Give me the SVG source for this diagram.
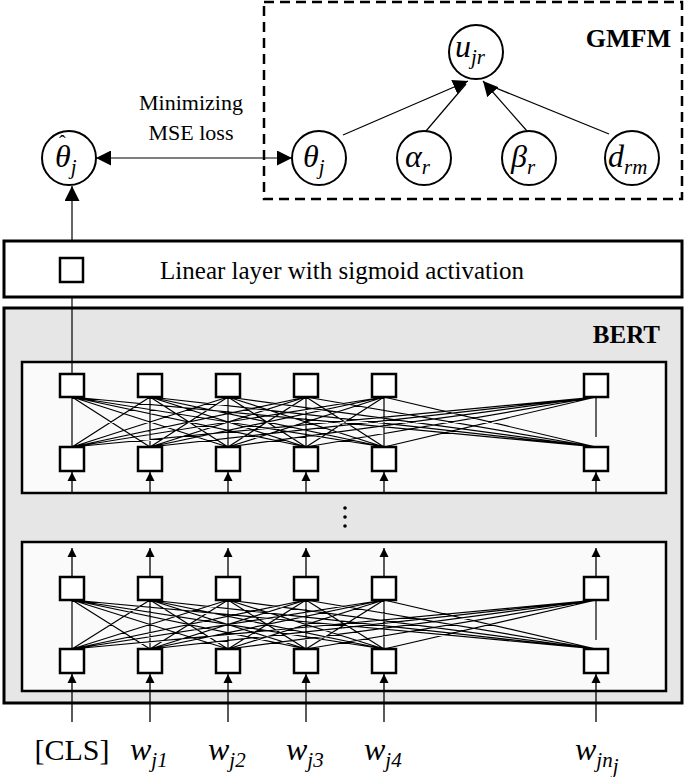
<svg xmlns="http://www.w3.org/2000/svg" width="685" height="777" viewBox="0 0 685 777">
<style>
text{font-family:"Liberation Serif",serif;fill:#000}
.m{font-style:italic;font-size:32px}
.s{font-style:italic;font-size:21px}
.c{fill:#fff;stroke:#000;stroke-width:2}
.sq{fill:#fff;stroke:#000;stroke-width:2.5}
.l{stroke:#000;stroke-width:1.2;fill:none}
.a{stroke:#000;stroke-width:1.3;fill:none;marker-end:url(#ah)}
</style>
<defs>
<marker id="ah" viewBox="0 0 10 10" refX="10" refY="5" markerWidth="9" markerHeight="11" orient="auto-start-reverse" markerUnits="userSpaceOnUse"><path d="M0,0L10,5L0,10z" fill="#000"/></marker>
<marker id="ab" viewBox="0 0 10 10" refX="10" refY="5" markerWidth="15" markerHeight="15" orient="auto-start-reverse" markerUnits="userSpaceOnUse"><path d="M0,0L10,5L0,10z" fill="#000"/></marker>
</defs>
<g id="bert">
<rect x="4" y="308" width="678" height="395" fill="#e6e6e6" stroke="#000" stroke-width="3"/>
<text x="660" y="343" font-size="25" font-weight="bold" text-anchor="end">BERT</text>
<rect x="22" y="362" width="644" height="131" fill="#fafafa" stroke="#000" stroke-width="2.5"/>
<rect x="22" y="542" width="644" height="149" fill="#fafafa" stroke="#000" stroke-width="2.5"/>
<circle cx="345" cy="508" r="1.8" fill="#000"/><circle cx="345" cy="517" r="1.8" fill="#000"/><circle cx="345" cy="526" r="1.8" fill="#000"/>
</g>
<g id="connectors">
<g class="l">
<path d="M72,397L72,447M72,397L150,447M72,397L228,447M72,397L306,447M72,397L384,447M72,397L596,447M150,397L72,447M150,397L150,447M150,397L228,447M150,397L306,447M150,397L384,447M150,397L596,447M228,397L72,447M228,397L150,447M228,397L228,447M228,397L306,447M228,397L384,447M228,397L596,447M306,397L72,447M306,397L150,447M306,397L228,447M306,397L306,447M306,397L384,447M306,397L596,447M384,397L72,447M384,397L150,447M384,397L228,447M384,397L306,447M384,397L384,447M384,397L596,447M596,397L72,447M596,397L150,447M596,397L228,447M596,397L306,447M596,397L384,447M596,397L596,437"/>
<path d="M72,600L72,649M72,600L150,649M72,600L228,649M72,600L306,649M72,600L384,649M72,600L596,649M150,600L72,649M150,600L150,649M150,600L228,649M150,600L306,649M150,600L384,649M150,600L596,649M228,600L72,649M228,600L150,649M228,600L228,649M228,600L306,649M228,600L384,649M228,600L596,649M306,600L72,649M306,600L150,649M306,600L228,649M306,600L306,649M306,600L384,649M306,600L596,649M384,600L72,649M384,600L150,649M384,600L228,649M384,600L306,649M384,600L384,649M384,600L596,649M596,600L72,649M596,600L150,649M596,600L228,649M596,600L306,649M596,600L384,649M596,600L596,640"/>
</g>
<line class="a" x1="72" y1="493" x2="72" y2="472"/><line class="a" x1="150" y1="493" x2="150" y2="472"/><line class="a" x1="228" y1="493" x2="228" y2="472"/><line class="a" x1="306" y1="493" x2="306" y2="472"/><line class="a" x1="384" y1="493" x2="384" y2="472"/><line class="a" x1="596" y1="493" x2="596" y2="472"/>
<line class="a" x1="72" y1="577" x2="72" y2="548"/><line class="a" x1="150" y1="577" x2="150" y2="548"/><line class="a" x1="228" y1="577" x2="228" y2="548"/><line class="a" x1="306" y1="577" x2="306" y2="548"/><line class="a" x1="384" y1="577" x2="384" y2="548"/><line class="a" x1="596" y1="577" x2="596" y2="548"/>
<line class="a" x1="72" y1="722" x2="72" y2="674"/><line class="a" x1="150" y1="722" x2="150" y2="674"/><line class="a" x1="228" y1="722" x2="228" y2="674"/><line class="a" x1="306" y1="722" x2="306" y2="674"/><line class="a" x1="384" y1="722" x2="384" y2="674"/><line class="a" x1="596" y1="722" x2="596" y2="674"/>
<line class="l" x1="72" y1="374" x2="72" y2="282"/>
<line class="l" x1="72" y1="258" x2="72" y2="186" style="marker-end:url(#ab)"/>
<line class="l" x1="96" y1="158" x2="292" y2="158" style="marker-start:url(#ab);marker-end:url(#ab)"/>
<line class="l" x1="343" y1="135" x2="468" y2="81" style="marker-end:url(#ab)"/>
<line class="l" x1="426" y1="131" x2="466" y2="84"/>
<line class="l" x1="527" y1="131" x2="483" y2="81" style="marker-end:url(#ab)"/>
<line class="l" x1="609" y1="134" x2="486" y2="84"/>
</g>
<g id="linear">
<rect x="4" y="241" width="678" height="56" fill="#fff" stroke="#000" stroke-width="3"/>
<text x="342" y="279" font-size="25" text-anchor="middle">Linear layer with sigmoid activation</text>
<rect class="sq" x="60" y="258" width="23" height="24"/>
</g>
<g id="squares">
<rect class="sq" x="60" y="374" width="24" height="23"/><rect class="sq" x="138" y="374" width="24" height="23"/><rect class="sq" x="216" y="374" width="24" height="23"/><rect class="sq" x="294" y="374" width="24" height="23"/><rect class="sq" x="372" y="374" width="24" height="23"/><rect class="sq" x="584" y="374" width="24" height="23"/>
<rect class="sq" x="60" y="447" width="24" height="24"/><rect class="sq" x="138" y="447" width="24" height="24"/><rect class="sq" x="216" y="447" width="24" height="24"/><rect class="sq" x="294" y="447" width="24" height="24"/><rect class="sq" x="372" y="447" width="24" height="24"/><rect class="sq" x="584" y="447" width="24" height="24"/>
<rect class="sq" x="60" y="577" width="24" height="23"/><rect class="sq" x="138" y="577" width="24" height="23"/><rect class="sq" x="216" y="577" width="24" height="23"/><rect class="sq" x="294" y="577" width="24" height="23"/><rect class="sq" x="372" y="577" width="24" height="23"/><rect class="sq" x="584" y="577" width="24" height="23"/>
<rect class="sq" x="60" y="649" width="24" height="24"/><rect class="sq" x="138" y="649" width="24" height="24"/><rect class="sq" x="216" y="649" width="24" height="24"/><rect class="sq" x="294" y="649" width="24" height="24"/><rect class="sq" x="372" y="649" width="24" height="24"/><rect class="sq" x="584" y="649" width="24" height="24"/>
</g>
<g id="inputs">
<text x="72" y="760" font-size="30" text-anchor="middle">[CLS]</text>
<text x="130" y="760" class="m">w<tspan class="s" dy="7">j1</tspan></text>
<text x="208" y="760" class="m">w<tspan class="s" dy="7">j2</tspan></text>
<text x="286" y="760" class="m">w<tspan class="s" dy="7">j3</tspan></text>
<text x="364" y="760" class="m">w<tspan class="s" dy="7">j4</tspan></text>
<text x="575" y="760" class="m">w<tspan class="s" dy="7">jn</tspan><tspan class="s" font-size="15" dy="6">j</tspan></text>
</g>
<g id="gmfm">
<rect x="264" y="2" width="418" height="197" fill="none" stroke="#000" stroke-width="2.5" stroke-dasharray="10,6"/>
<text x="671" y="47" font-size="26" font-weight="bold" text-anchor="end">GMFM</text>
</g>
<g id="label"><text x="191" y="110" font-size="22" text-anchor="middle">Minimizing</text><text x="191" y="140" font-size="22" text-anchor="middle">MSE loss</text></g>
<g id="theta-hat"><circle class="c" cx="69" cy="158" r="27"/><text x="55" y="167" class="m">θ<tspan class="s" dy="7">j</tspan></text><text x="59" y="150" font-size="20">ˆ</text></g>
<g id="u"><circle class="c" cx="476" cy="52" r="27"/><text x="455" y="57" class="m">u<tspan class="s" dy="7">jr</tspan></text></g>
<g id="theta"><circle class="c" cx="319" cy="158" r="27"/><text x="303" y="167" class="m">θ<tspan class="s" dy="7">j</tspan></text></g>
<g id="alpha"><circle class="c" cx="424" cy="158" r="27"/><text x="405" y="167" class="m">α<tspan class="s" dy="7">r</tspan></text></g>
<g id="beta"><circle class="c" cx="529" cy="158" r="27"/><text x="511" y="167" class="m">β<tspan class="s" dy="7">r</tspan></text></g>
<g id="d"><circle class="c" cx="632" cy="158" r="27"/><text x="608" y="167" class="m">d<tspan class="s" dy="7">rm</tspan></text></g>
</svg>
